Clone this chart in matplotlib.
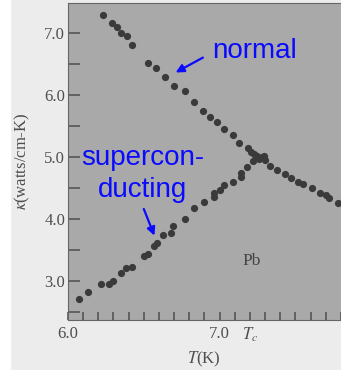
import numpy as np
import matplotlib
matplotlib.use('Agg')
import matplotlib.pyplot as plt
from matplotlib.patches import Rectangle

# thermal conductivity of Pb
normal_T = [6.23, 6.29, 6.32, 6.35, 6.39, 6.42, 6.53, 6.58, 6.64, 6.70,
            6.77, 6.83, 6.89, 6.94, 6.98, 7.03, 7.09, 7.13, 7.19, 7.21,
            7.23, 7.25, 7.26, 7.28, 7.29, 7.30, 7.33, 7.38, 7.43, 7.47,
            7.52, 7.55, 7.61, 7.66, 7.70, 7.72, 7.78]
normal_k = [7.29, 7.16, 7.10, 7.00, 6.94, 6.81, 6.52, 6.44, 6.29, 6.15,
            6.06, 5.89, 5.74, 5.65, 5.56, 5.45, 5.35, 5.23, 5.15, 5.08,
            5.05, 5.01, 4.97, 4.99, 5.02, 4.95, 4.86, 4.79, 4.73, 4.66,
            4.60, 4.56, 4.50, 4.42, 4.39, 4.34, 4.26]

super_T = [6.07, 6.13, 6.22, 6.27, 6.30, 6.35, 6.38, 6.42, 6.50, 6.53,
           6.57, 6.59, 6.63, 6.68, 6.69, 6.77, 6.83, 6.90, 6.96, 6.96,
           7.00, 7.03, 7.09, 7.14, 7.14, 7.18, 7.22, 7.25]
super_k = [2.71, 2.82, 2.95, 2.95, 3.00, 3.13, 3.21, 3.23, 3.40, 3.44,
           3.56, 3.61, 3.74, 3.77, 3.89, 4.00, 4.18, 4.27, 4.35, 4.42,
           4.47, 4.55, 4.60, 4.68, 4.74, 4.84, 4.94, 4.98]

x_ticks = [6.0, 6.1, 6.2, 6.3, 6.4, 6.5, 6.6, 6.7, 6.8, 6.9,
           7.0, 7.1, 7.2, 7.3, 7.4, 7.5, 7.6, 7.7, 7.8]
x_labels = ['6.0', '', '', '', '', '', '', '', '', '',
            '7.0', '', r'$T_c$', '', '', '', '', '', '']
y_ticks = [2.5, 3.0, 3.5, 4.0, 4.5, 5.0, 5.5, 6.0, 6.5, 7.0]
y_labels = ['', '3.0', '', '4.0', '', '5.0', '', '6.0', '', '7.0']

plt.rcParams['font.family'] = ['Liberation Serif', 'DejaVu Serif']
plt.rcParams['mathtext.fontset'] = 'stix'

gray = '#4e4e4e'
blue = '#0a0aff'

fig = plt.figure(figsize=(3.41, 3.70), dpi=100, facecolor='#ececec')
fig.add_artist(Rectangle((0, 0), 10 / 341, 1, transform=fig.transFigure,
                         color='white', zorder=-5))

ax = fig.add_axes([68 / 341, 50 / 370, 288 / 341, 317 / 370])
ax.set_facecolor('#a9a9a9')
ax.set_xlim(6.0, 7.9)
ax.set_ylim(2.37, 7.48)

ax.plot(normal_T, normal_k, 'o', ms=5.2, color='#3a3a3a', mew=0)
ax.plot(super_T, super_k, 'o', ms=5.2, color='#3a3a3a', mew=0)

ax.set_xticks(x_ticks)
ax.set_xticklabels(x_labels)
ax.set_yticks(y_ticks)
ax.set_yticklabels(y_labels)
ax.tick_params(axis='x', direction='in', length=5.5, width=1.1, color=gray,
               labelcolor=gray, labelsize=12, pad=4)
ax.tick_params(axis='y', direction='in', length=8.5, width=1.1, color=gray,
               labelcolor=gray, labelsize=12, pad=2)
for s in ax.spines.values():
    s.set_color('#666666')
    s.set_linewidth(0.8)

fig.text(204 / 341, 1 - 359 / 370, r'$T$(K)', ha='center', va='center',
         fontsize=12, color=gray)
fig.text(22 / 341, 1 - 161 / 370, r'$\kappa$(watts/cm-K)', rotation=90,
         ha='center', va='center', fontsize=12, color=gray)
ax.text(7.21, 3.32, 'Pb', ha='center', va='center', fontsize=12.5, color='#444444')

# blue overlay annotations
ax.text(6.95, 6.60, 'normal', color=blue, fontsize=20,
        family='Liberation Sans', ha='left', va='baseline')
ax.annotate('', xy=(6.71, 6.36), xytext=(6.89, 6.60),
            arrowprops=dict(arrowstyle='-|>', color=blue, lw=1.6,
                            mutation_scale=12, shrinkA=0, shrinkB=0))
ax.text(6.49, 4.87, 'supercon-', color=blue, fontsize=20,
        family='Liberation Sans', ha='center', va='baseline')
ax.text(6.49, 4.36, 'ducting', color=blue, fontsize=20,
        family='Liberation Sans', ha='center', va='baseline')
ax.annotate('', xy=(6.57, 3.73), xytext=(6.50, 4.16),
            arrowprops=dict(arrowstyle='-|>', color=blue, lw=1.6,
                            mutation_scale=12, shrinkA=0, shrinkB=0))

fig.savefig('out.png', dpi=100, facecolor=fig.get_facecolor())
